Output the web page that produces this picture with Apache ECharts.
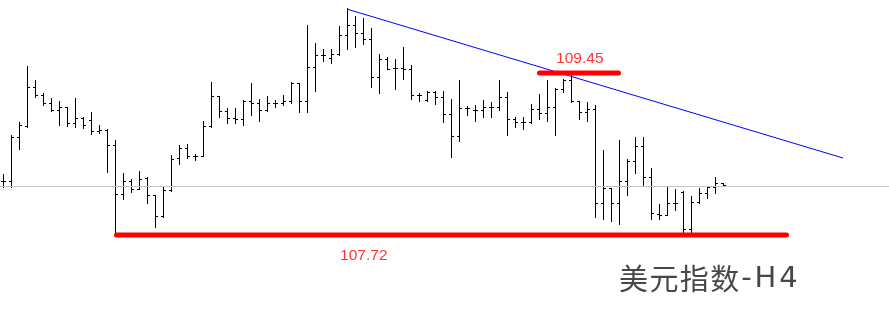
<!DOCTYPE html>
<html>
<head>
<meta charset="utf-8">
<script src="https://cdn.jsdelivr.net/npm/echarts@6/dist/echarts.min.js"></script>
<style>html,body{margin:0;padding:0;background:#fff}#c{width:889px;height:311px}</style>
</head>
<body>
<div id="c"></div>
<script>
// US Dollar Index, H4 bars (one bar per index)
const opens = [108.300,108.294,108.763,108.884,109.297,109.212,109.126,109.052,109.084,108.916,
108.970,108.945,108.831,108.841,108.678,108.155,108.297,108.211,108.326,108.144,
107.923,108.201,108.539,108.646,108.561,108.567,108.879,109.204,109.041,108.970,
108.962,109.154,109.126,109.055,109.126,109.126,109.154,109.346,109.154,109.511,
109.639,109.610,109.653,109.853,109.959,109.874,109.810,109.404,109.596,109.503,
109.503,109.496,109.218,109.162,109.247,109.191,109.012,108.777,109.076,109.055,
109.055,109.084,109.090,109.197,108.956,108.924,108.932,109.066,109.020,109.084,
109.276,109.375,109.154,109.034,109.062,108.059,108.222,108.059,108.294,108.507,
108.670,108.336,107.944,107.937,108.062,108.179,107.784,108.072,108.172,108.229,108.272];
const highs = [108.372,108.788,108.924,109.525,109.375,109.233,109.186,109.148,109.084,109.180,
108.983,109.034,108.892,108.855,108.735,108.379,108.315,108.400,108.336,108.144,
108.229,108.571,108.681,108.689,108.582,108.934,109.354,109.204,109.076,109.076,
109.162,109.340,109.169,109.204,109.162,109.212,109.354,109.346,109.966,109.767,
109.703,109.703,109.952,110.144,110.059,110.037,109.931,109.653,109.618,109.596,
109.725,109.532,109.240,109.261,109.255,109.261,109.169,109.375,109.098,109.105,
109.162,109.140,109.375,109.247,108.977,108.980,109.119,109.231,109.375,109.290,
109.383,109.426,109.154,109.140,109.112,108.628,108.222,108.735,108.528,108.763,
108.763,108.436,108.051,108.229,108.206,108.185,108.137,108.222,108.243,108.343,108.272];
const lows = [108.236,108.229,108.635,108.870,109.197,109.108,109.044,108.898,108.887,108.870,
108.860,108.795,108.806,108.396,107.720,108.101,108.176,108.208,108.065,107.809,
107.909,108.193,108.475,108.539,108.518,108.561,108.870,108.983,108.913,108.919,
108.898,109.005,108.941,109.041,109.090,109.105,109.133,109.034,109.034,109.255,
109.575,109.560,109.646,109.710,109.731,109.760,109.304,109.240,109.490,109.282,
109.383,109.169,109.154,109.154,109.119,108.927,108.556,108.721,108.998,108.934,
108.983,108.983,109.055,108.791,108.870,108.855,108.913,108.962,108.941,108.791,
109.247,109.140,108.956,108.941,107.916,107.888,107.873,107.838,108.144,108.379,
108.243,107.888,107.888,107.930,107.992,107.741,107.741,108.065,108.115,108.165,108.243];
const closes = [108.300,108.770,108.892,109.297,109.212,109.126,109.052,109.084,108.916,108.970,
108.892,108.831,108.841,108.678,108.155,108.294,108.211,108.318,108.144,107.923,
108.201,108.528,108.646,108.561,108.561,108.879,109.204,109.041,108.970,108.962,
109.154,109.126,109.055,109.126,109.126,109.154,109.346,109.154,109.511,109.639,
109.639,109.653,109.853,109.959,109.874,109.810,109.404,109.596,109.496,109.503,
109.496,109.218,109.218,109.247,109.191,109.012,108.777,109.076,109.076,109.055,
109.084,109.090,109.197,108.956,108.927,108.924,109.066,109.020,109.084,109.276,
109.375,109.154,109.034,109.062,108.059,108.222,108.059,108.294,108.507,108.670,
108.336,107.952,107.937,108.062,108.062,107.784,108.072,108.172,108.229,108.272,108.251];

const currentPrice = 108.243;          // grey horizontal price line
const resistance = 109.45;             // short red line
const resistanceSpan = [67.06, 76.94];
const support = 107.72;                // long red line
const supportSpan = [14.19, 97.94];
const trendLine = [[43, 110.133], [105, 108.542]]; // blue trend line
const title = '美元指数-H4';

const bars = opens.map((o, i) => [i, o, highs[i], lows[i], closes[i]]);

// title: each character as its own rich fragment (gives the wide spacing of the original)
const titleRich = Array.from(title).map(ch => (/[\u4e00-\u9fff]/.test(ch) ? '{c|' : '{l|') + ch + '}').join('');

const chart = echarts.init(document.getElementById('c'), null, {renderer: 'canvas'});
chart.setOption({
  animation: false,
  backgroundColor: '#ffffff',
  title: {
    text: titleRich, right: 90, top: 262, padding: 0,
    textStyle: {
      fontWeight: 'normal',
      rich: {
        c: {fontSize: 29, fontWeight: 'normal', color: '#474747', fontFamily: '"Noto Sans CJK SC", sans-serif', padding: [0, 0.7], lineHeight: 34},
        l: {fontSize: 29, fontWeight: 'normal', color: '#474747', fontFamily: '"DejaVu Sans", sans-serif', padding: [0, 1.4], lineHeight: 34}
      }
    }
  },
  grid: {left: 0, right: 0, top: 0, bottom: 0},
  xAxis: {type: 'value', min: -0.375, max: 110.75, show: false},
  yAxis: {type: 'value', min: 106.908, max: 110.230, show: false, scale: true},
  series: [
    {
      type: 'line', silent: true, symbol: 'none', data: [],
      markLine: {
        silent: true, symbol: 'none', label: {show: false},
        lineStyle: {color: '#c4c4c4', width: 1, type: 'solid'},
        data: [{yAxis: currentPrice}]
      }
    },
    {
      type: 'custom',
      data: bars,
      encode: {x: 0, y: [1, 2, 3, 4]},
      renderItem: function (params, api) {
        const i = api.value(0);
        const pH = api.coord([i, api.value(2)]);
        const pL = api.coord([i, api.value(3)]);
        const pO = api.coord([i, api.value(1)]);
        const pC = api.coord([i, api.value(4)]);
        const cx = Math.round(pH[0]);
        const x = cx + 0.5;
        const yH = Math.round(pH[1]);
        const yL = Math.round(pL[1]) + 1;
        const yO = Math.round(pO[1]) + 0.5;
        const yC = Math.round(pC[1]) + 0.5;
        const st = {stroke: '#000', lineWidth: 1};
        return {
          type: 'group',
          children: [
            {type: 'line', shape: {x1: x, y1: yH, x2: x, y2: yL}, style: st},
            {type: 'line', shape: {x1: cx - 2, y1: yO, x2: cx, y2: yO}, style: st},
            {type: 'line', shape: {x1: cx + 1, y1: yC, x2: cx + 3, y2: yC}, style: st}
          ]
        };
      }
    },
    {
      type: 'line', symbol: 'none', silent: true,
      data: trendLine,
      lineStyle: {color: '#0000ff', width: 1}
    },
    {
      type: 'line', symbol: 'none', silent: true,
      data: [[resistanceSpan[0], resistance], [resistanceSpan[1], resistance]],
      lineStyle: {color: '#ff0000', width: 5, cap: 'round'}
    },
    {
      type: 'line', symbol: 'none', silent: true,
      data: [[supportSpan[0], support], [supportSpan[1], support]],
      lineStyle: {color: '#ff0000', width: 5, cap: 'round'}
    },
    {
      type: 'scatter', symbolSize: 0, silent: true,
      data: [
        {value: [72.1, resistance], label: {position: 'top', distance: 6}},
        {value: [45.1, support], label: {position: 'bottom', distance: 13}}
      ],
      label: {
        show: true, color: '#ff0000', fontSize: 15.5,
        fontFamily: '"Liberation Sans", Arial, sans-serif',
        formatter: p => p.value[1].toFixed(2)
      }
    }
  ]
});
</script>
</body>
</html>
